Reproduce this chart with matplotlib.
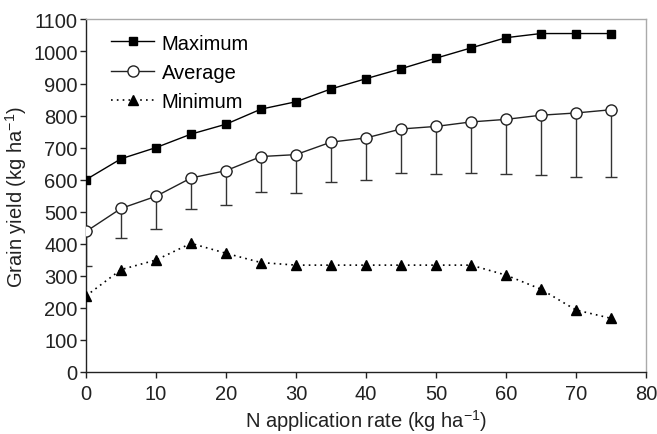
import matplotlib
matplotlib.use("Agg")
import matplotlib.pyplot as plt
import numpy as np

plt.rcParams['font.family'] = ['Liberation Sans', 'DejaVu Sans']
plt.rcParams['mathtext.fontset'] = 'custom'
plt.rcParams['mathtext.rm'] = 'Liberation Sans'
plt.rcParams['mathtext.it'] = 'Liberation Sans'

n_rate = [0, 5, 10, 15, 20, 25, 30, 35, 40, 45, 50, 55, 60, 65, 70, 75]
maximum = [600, 665, 700, 742, 773, 820, 843, 883, 915, 946, 979, 1011, 1043, 1056, 1056, 1056]
average = [438, 510, 548, 605, 628, 672, 678, 717, 730, 758, 766, 780, 788, 801, 808, 818]
avg_lower = [330, 417, 446, 508, 522, 562, 558, 594, 599, 620, 617, 622, 617, 615, 609, 609]
minimum = [237, 319, 349, 401, 370, 341, 333, 333, 333, 333, 333, 333, 302, 258, 193, 167]

fig = plt.figure(figsize=(6.57, 4.35), dpi=100)
ax = fig.add_axes([0.131, 0.143, 0.852, 0.81])

# one-sided (lower) error bars on the average
lower_err = np.array(average) - np.array(avg_lower)
ax.errorbar(n_rate, average, yerr=[lower_err, np.zeros_like(lower_err)],
            fmt='none', ecolor='#333333', elinewidth=1.0, capsize=4, capthick=1.0, zorder=2)

ax.plot(n_rate, maximum, '-', color='black', lw=1.0, marker='s', ms=5.5,
        mfc='black', mec='black', label='Maximum', zorder=3)
ax.plot(n_rate, average, '-', color='#222222', lw=1.0, marker='o', ms=8,
        mfc='white', mec='#222222', mew=1.0, label='Average', zorder=3)
ax.plot(n_rate, minimum, color='black', lw=1.2, linestyle=(0, (1, 2.5)), marker='^', ms=6.5,
        mfc='black', mec='black', label='Minimum', zorder=3)

ax.set_xlim(0, 80)
ax.set_ylim(0, 1100)
ax.set_xticks(np.arange(0, 81, 10))
ax.set_yticks(np.arange(0, 1101, 100))
ax.tick_params(axis='both', labelsize=14.5, direction='out', length=4, width=1,
               colors='#222222', pad=2)
ax.tick_params(axis='x', pad=5)
ax.tick_params(top=False, right=False)

for side in ['left', 'bottom']:
    ax.spines[side].set_color('#222222')
    ax.spines[side].set_linewidth(1.0)
for side in ['top', 'right']:
    ax.spines[side].set_color('#aaaaaa')
    ax.spines[side].set_linewidth(1.0)

ax.set_xlabel('N application rate (kg ha$^{-1}$)', fontsize=14.5, color='#222222', labelpad=2.5)
ax.set_ylabel('Grain yield (kg ha$^{-1}$)', fontsize=14.5, color='#222222', labelpad=3)

ax.legend(loc='upper left', frameon=False, fontsize=14.5, handlelength=2.1,
          handletextpad=0.4, labelspacing=0.5, borderaxespad=0.3,
          bbox_to_anchor=(0.02, 1.0))

fig.savefig('out.png', dpi=100)
